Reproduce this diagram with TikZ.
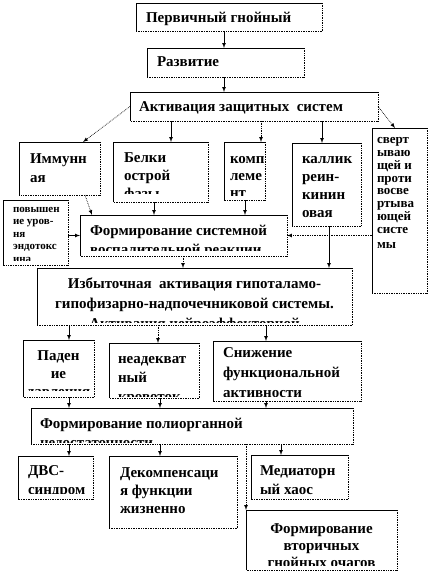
\documentclass[tikz,border=0pt]{standalone}
\usepackage{fontspec}
\setmainfont{Liberation Serif}

\newcommand*{\picw}{428}
\newcommand*{\pich}{573}

\begin{document}
\begin{tikzpicture}
[
	x=1pt,
	y=-1pt,
	solidln/.style={draw, line width=0.7pt},
	dotln/.style={draw, line width=0.7pt, densely dotted},
	box/.style={fill=white, inner sep=0pt, outer sep=0pt, anchor=north west,
		append after command={
			(\tikzlastnode.south west) edge[solidln] (\tikzlastnode.north west)
			(\tikzlastnode.north west) edge[solidln] (\tikzlastnode.north east)
			(\tikzlastnode.north east) edge[dotln] (\tikzlastnode.south east)
			(\tikzlastnode.south east) edge[dotln] (\tikzlastnode.south west)
		}},
	% base of a text = baseline of its last line
	txt/.style={inner sep=0pt, minimum width=0pt, minimum height=0pt, fill=none,
		anchor=base west, align=left,
		font=\bfseries\fontsize{15}{19}\selectfont},
	small/.style={font=\bfseries\fontsize{13}{12.8}\selectfont},
	smaller/.style={font=\bfseries\fontsize{11}{12.4}\selectfont},
	inbox/.style n args={6}{path picture={
		\clip (path picture bounding box.north west)
			rectangle ([xshift=-2pt,yshift=#4pt]path picture bounding box.south east);
		\node[txt,#1] (#5) at ([xshift=#2pt,yshift=-#3pt]path picture bounding box.north west) {#6};
	}},
	arr/.style={->, >=latex, line width=0.7pt},
	darr/.style={arr, densely dotted}
]

	\useasboundingbox (0,0) rectangle (\picw,\pich);

	% top chain
	\node[box, minimum width=186pt, minimum height=28pt,
		inbox={}{10}{19.5}{0}{tprim}{Первичный гнойный}] (prim) at (136,3) {};
	\node[box, minimum width=157pt, minimum height=29pt,
		inbox={}{10}{18.5}{0}{trazv}{Развитие}] (razv) at (147,48) {};
	\node[box, minimum width=248pt, minimum height=29pt,
		inbox={}{9}{19}{0}{takt}{Активация защитных~ систем}] (akt) at (130,92) {};

	% defence systems
	\node[box, minimum width=81pt, minimum height=53pt,
		inbox={}{11}{40}{0}{timm}{Иммунн\\ая}] (imm) at (19,142) {};
	\node[box, minimum width=95pt, minimum height=60pt,
		inbox={}{11}{56}{8.5}{tbel}{Белки\\[-1pt]острой\\[-1pt]фазы}] (bel) at (113,142) {};
	\node[box, minimum width=41pt, minimum height=58pt,
		inbox={}{6}{55}{5}{tkomp}{комп\\[-2pt]леме\\[-2pt]нт}] (komp) at (224,142) {};
	\node[box, minimum width=69pt, minimum height=83pt,
		inbox={}{10}{74}{0}{tkall}{каллик\\[-1pt]реин-\\[-1pt]кинин\\[-1pt]овая}] (kall) at (292,143) {};
	\node[box, minimum width=55pt, minimum height=165pt,
		inbox={small}{5}{120}{0}{tsver}{сверт\\ываю\\щей и\\проти\\восве\\ртыва\\ющей\\систе\\[2pt]мы}] (sver) at (372,128) {};
	\node[box, minimum width=65pt, minimum height=65pt,
		inbox={smaller}{10}{62.1}{5}{tpovy}{повышен\\ие уров-\\ня\\эндотокс\\ина}] (povy) at (3,200) {};

	% SIRS and HPA axis
	\node[box, minimum width=207pt, minimum height=41pt,
		inbox={}{10}{39}{6}{tfsvr}{Формирование системной\\воспалительной реакции}] (fsvr) at (80,215) {};
	\node[box, minimum width=315pt, minimum height=57pt,
		inbox={align=center,anchor=base}{157.5}{60}{3}{tizb}{Избыточная~ активация гипоталамо-\\[1pt]гипофизарно-надпочечниковой системы.\\[1pt]Активация нейроэффекторной}] (izb) at (37,268) {};

	% consequences
	\node[box, minimum width=71pt, minimum height=57pt,
		inbox={align=center,anchor=base}{35.5}{56}{6.5}{tpad}{Паден\\[-1pt]ие\\[-1pt]давления}] (pad) at (23,340) {};
	\node[box, minimum width=90pt, minimum height=55pt,
		inbox={}{9}{58}{2}{tneadek}{неадекват\\ный\\кровоток}] (neadek) at (109,343) {};
	\node[box, minimum width=148pt, minimum height=60pt,
		inbox={}{10}{56}{5}{tsnizh}{Снижение\\[1pt]функциональной\\[1pt]активности}] (snizh) at (213,341) {};
	\node[box, minimum width=322pt, minimum height=36pt,
		inbox={}{9}{39}{2}{tfpol}{Формирование полиорганной\\недостаточности}] (fpol) at (31,408) {};

	% outcomes
	\node[box, minimum width=75pt, minimum height=43pt,
		inbox={}{10}{38}{6}{tdvs}{ДВС-\\синдром}] (dvs) at (18,456) {};
	\node[box, minimum width=128pt, minimum height=72pt,
		inbox={}{11}{57}{8}{tdekomp}{Декомпенсаци\\[-1pt]я функции\\[-1pt]жизненно}] (dekomp) at (109,456) {};
	\node[box, minimum width=97pt, minimum height=44pt,
		inbox={}{9}{39}{0}{tmed}{Медиаторн\\ый хаос}] (med) at (251,455) {};
	\node[box, minimum width=151pt, minimum height=60pt,
		inbox={align=center,anchor=base}{75.5}{57}{5}{tvtor}{Формирование\\[-2pt]вторичных\\[-2pt]гнойных очагов}] (vtor) at (246,510) {};

	% arrows
	\draw[arr] (prim.south -| 224,0) -- (razv.north -| 224,0);
	\draw[arr] (razv.south -| 224,0) -- (akt.north -| 224,0);

	\draw[darr] (akt.west) -- (imm.north -| 83,0);
	\draw[arr] (akt.south -| 171,0) -- (bel.north -| 171,0);
	\draw[darr] (akt.south -| 261,0) -- (komp.north -| 261,0);
	\draw[arr] (akt.south -| 322,0) -- (kall.north -| 322,0);
	\draw[darr] (akt.east) -- (sver.north -| 395,0);

	\draw[darr] (imm.south -| 85,0) -- (fsvr.north -| 92,0);
	\draw[arr] (bel.south -| 154,0) -- (fsvr.north -| 154,0);
	\draw[arr] (komp.south -| 245,0) -- (fsvr.north -| 245,0);
	\draw[arr] (povy.east |- fsvr.west) -- (fsvr.west);
	\draw[darr] (sver.west |- fsvr.east) -- (fsvr.east);

	\draw[darr] (fsvr.south -| 183,0) -- (izb.north -| 183,0);
	\draw[arr] (kall.south -| 329,0) -- (izb.north -| 329,0);

	\draw[arr] (izb.south -| 69,0) -- (pad.north -| 69,0);
	\draw[darr] (izb.south -| 158,0) -- (neadek.north -| 158,0);
	\draw[arr] (izb.south -| 266,0) -- (snizh.north -| 266,0);

	\draw[arr] (pad.south -| 69,0) -- (fpol.north -| 69,0);
	\draw[arr] (neadek.south -| 160,0) -- (fpol.north -| 160,0);
	\draw[arr] (snizh.south -| 266,0) -- (fpol.north -| 266,0);

	\draw[arr] (fpol.south -| 69,0) -- (dvs.north -| 69,0);
	\draw[arr] (fpol.south -| 160,0) -- (dekomp.north -| 160,0);
	\draw[arr] (fpol.south -| 281,0) -- (med.north -| 281,0);
	\draw[darr] (fpol.south -| vtor.north west) -- (vtor.north west);

\end{tikzpicture}
\end{document}
